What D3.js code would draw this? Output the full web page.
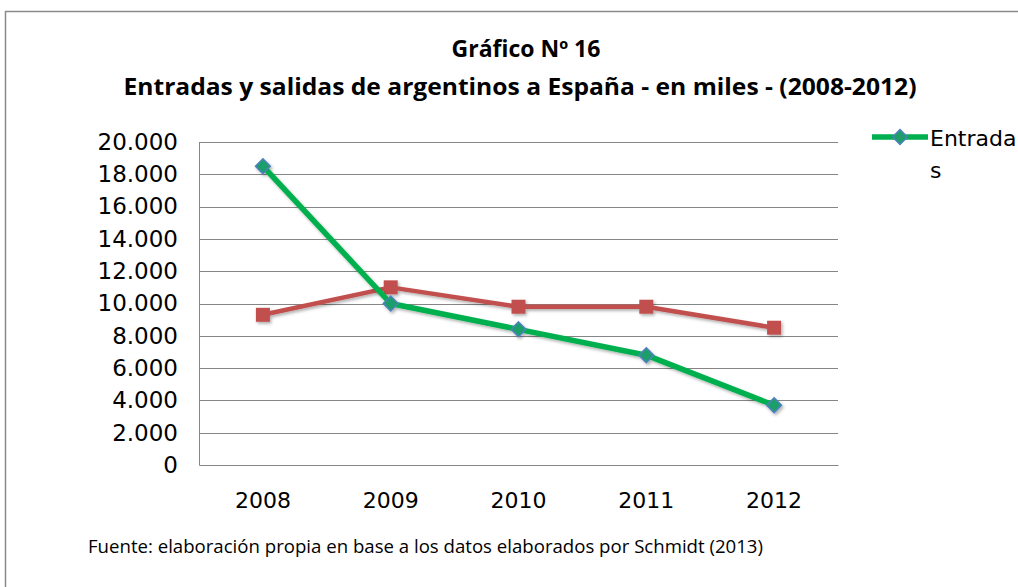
<!DOCTYPE html>
<html>
<head>
<meta charset="utf-8">
<script src="https://cdnjs.cloudflare.com/ajax/libs/d3/7.8.5/d3.min.js"></script>
<style>
body{margin:0;background:#fff}
</style>
</head>
<body>
<script>
var years=["2008","2009","2010","2011","2012"]
var entradas=[18500,10000,8400,6800,3700]
var salidas=[9300,11000,9800,9800,8500]
var yTicks=[0,2000,4000,6000,8000,10000,12000,14000,16000,18000,20000]
var titulo1="Gráfico Nº 16"
var titulo2="Entradas y salidas de argentinos a España - en miles - (2008-2012)"
var fuente="Fuente: elaboración propia en base a los datos elaborados por Schmidt (2013)"

var screen={width:1018,height:587}
var margins={top:142,right:180,bottom:122,left:199}
var height=screen.height-margins.top-margins.bottom
var width=screen.width-margins.left-margins.right
var fontAxis="'DejaVu Sans',sans-serif"
var fontTitle="'Open Sans',sans-serif"

var svg=d3.select("body").append("svg").attr("width",screen.width).attr("height",screen.height)

var defs=svg.append("defs")
var f=defs.append("filter").attr("id","sh").attr("x","-20%").attr("y","-20%").attr("width","140%").attr("height","140%")
f.append("feDropShadow").attr("dx",1.5).attr("dy",2).attr("stdDeviation",1.5).attr("flood-color","#000").attr("flood-opacity",0.3)

// marco
svg.append("rect").attr("x",5.5).attr("y",11.5).attr("width",1100).attr("height",700)
   .attr("fill","#fff").attr("stroke","#8a8a8a").attr("stroke-width",1.5)

var xScale=d3.scaleBand().domain(years).range([0,width])
var yScale=d3.scaleLinear().domain([0,20000]).range([height,0])
var fmt=d3.format(",.0f")
var lab=function(d){return fmt(d).replace(/,/g,".")}

var g=svg.append("g").attr("transform","translate("+margins.left+","+margins.top+")")

g.append("g").selectAll("line").data(yTicks.slice(1)).enter().append("line")
 .attr("x1",0).attr("x2",width)
 .attr("y1",function(d){return Math.round(yScale(d))+0.5})
 .attr("y2",function(d){return Math.round(yScale(d))+0.5})
 .attr("stroke","#868686").attr("stroke-width",1)

var yAxis=d3.axisLeft(yScale).tickValues(yTicks).tickFormat(lab).tickSize(0).tickPadding(21)
var ya=g.append("g").call(yAxis)
ya.select(".domain").attr("stroke","#868686")
ya.selectAll("text").attr("font-family",fontAxis).attr("font-size",23).attr("fill","#000")

var xAxis=d3.axisBottom(xScale).tickSize(0).tickPadding(27)
var xa=g.append("g").attr("transform","translate(0,"+height+")").call(xAxis)
xa.select(".domain").attr("stroke","#868686")
xa.selectAll("text").attr("font-family",fontAxis).attr("font-size",22).attr("fill","#000")

var cx=function(d,i){return xScale(years[i])+xScale.bandwidth()/2}
var line=d3.line().x(cx).y(function(d){return yScale(d)})

var sg=g.append("g").attr("filter","url(#sh)")
sg.append("path").datum(salidas).attr("d",line).attr("fill","none")
  .attr("stroke","#C0504D").attr("stroke-width",4.5).attr("stroke-linejoin","round")
sg.selectAll("rect").data(salidas).enter().append("rect")
  .attr("x",function(d,i){return cx(d,i)-7}).attr("y",function(d){return yScale(d)-7})
  .attr("width",14).attr("height",14).attr("fill","#C0504D")

var eg=g.append("g").attr("filter","url(#sh)")
eg.append("path").datum(entradas).attr("d",line).attr("fill","none")
  .attr("stroke","#00B050").attr("stroke-width",5.5).attr("stroke-linejoin","round")
var diamond=d3.symbol().type(d3.symbolDiamond2).size(140)
eg.selectAll("path.m").data(entradas).enter().append("path").attr("class","m")
  .attr("d",diamond)
  .attr("transform",function(d,i){return "translate("+cx(d,i)+","+yScale(d)+")"})
  .attr("fill","#1F9E6A").attr("stroke","#4F81BD").attr("stroke-width",1.5)

// leyenda
var lg=svg.append("g").attr("transform","translate(872,137)")
lg.append("line").attr("x1",0).attr("x2",56).attr("y1",0).attr("y2",0)
  .attr("stroke","#00B050").attr("stroke-width",5.5)
lg.append("path").attr("d",diamond).attr("transform","translate(28,0)")
  .attr("fill","#1F9E6A").attr("stroke","#4F81BD").attr("stroke-width",1.5)
lg.append("text").attr("x",58).attr("y",9).attr("font-family",fontAxis).attr("font-size",22).text("Entrada")
lg.append("text").attr("x",58).attr("y",41).attr("font-family",fontAxis).attr("font-size",22).text("s")

// titulos
svg.append("text").attr("x",526).attr("y",57).attr("text-anchor","middle").attr("font-family",fontTitle)
   .attr("font-weight","bold").attr("font-size",23).text(titulo1)
svg.append("text").attr("x",520).attr("y",95).attr("text-anchor","middle").attr("font-family",fontTitle)
   .attr("font-weight","bold").attr("font-size",23).attr("textLength",793).attr("lengthAdjust","spacingAndGlyphs").text(titulo2)
svg.append("text").attr("x",88).attr("y",553).attr("font-family",fontTitle).attr("font-size",17.5)
   .attr("textLength",675).attr("lengthAdjust","spacingAndGlyphs").text(fuente)
</script>
</body>
</html>
